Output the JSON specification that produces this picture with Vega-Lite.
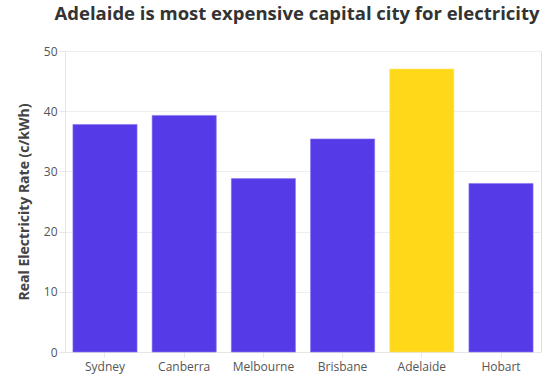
{
  "$schema": "https://vega.github.io/schema/vega-lite/v6.json",
  "width": 476,
  "height": 301,
  "autosize": {"type": "none"},
  "padding": {"left": 65, "top": 51, "right": 10, "bottom": 26},
  "background": "white",
  "title": {
    "text": "Adelaide is most expensive capital city for electricity",
    "font": "Open Sans",
    "fontSize": 18.5,
    "fontWeight": "bold",
    "color": "#333333",
    "anchor": "middle",
    "offset": 22,
    "dx": -6
  },
  "data": {
    "values": [
      {"city": "Sydney", "rate": 37.8, "hl": "no"},
      {"city": "Canberra", "rate": 39.3, "hl": "no"},
      {"city": "Melbourne", "rate": 28.8, "hl": "no"},
      {"city": "Brisbane", "rate": 35.4, "hl": "no"},
      {"city": "Adelaide", "rate": 47.0, "hl": "yes"},
      {"city": "Hobart", "rate": 28.0, "hl": "no"}
    ]
  },
  "mark": {"type": "bar", "strokeWidth": 1, "strokeOpacity": 0.6},
  "encoding": {
    "x": {
      "field": "city", "type": "nominal", "sort": null,
      "scale": {"paddingInner": 0.19, "paddingOuter": 0.1},
      "axis": {"title": null, "labelAngle": 0, "labelFont": "Open Sans", "labelFontSize": 12, "labelColor": "#555555",
               "domainColor": "#e6e6e6", "tickColor": "#e6e6e6", "tickSize": 5, "labelPadding": 4}
    },
    "y": {
      "field": "rate", "type": "quantitative",
      "scale": {"domain": [0, 50]},
      "axis": {"title": "Real Electricity Rate (c/kWh)", "titleFont": "Open Sans", "titleFontSize": 14, "titleFontWeight": "bold",
               "titleColor": "#444444", "labelFont": "Open Sans", "labelFontSize": 12, "labelColor": "#555555",
               "tickCount": 5, "gridColor": "#eeeeee", "domainColor": "#e6e6e6", "tickColor": "#e6e6e6", "tickSize": 6, "titlePadding": 12}
    },
    "color": {"field": "hl", "type": "nominal", "scale": {"domain": ["no", "yes"], "range": ["#553BE8", "#FFD81A"]}, "legend": null},
    "stroke": {"field": "hl", "type": "nominal", "scale": {"domain": ["no", "yes"], "range": ["#8877f0", "#ffe566"]}, "legend": null}
  }
}
